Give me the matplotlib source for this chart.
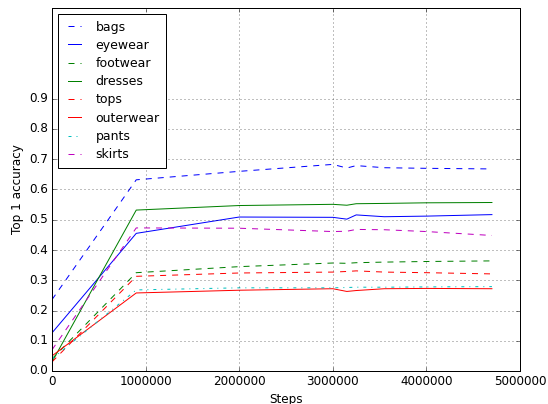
import numpy as np
import matplotlib
matplotlib.use('Agg')
import matplotlib.pyplot as plt

plt.style.use('classic')

# training steps at which each category was evaluated
steps = [0, 900000, 2000000, 3000000, 3150000, 3250000, 3550000, 4000000, 4700000]

bags = [0.236, 0.632, 0.660, 0.683, 0.671, 0.679, 0.672, 0.670, 0.668]
eyewear = [0.126, 0.455, 0.509, 0.508, 0.502, 0.516, 0.510, 0.512, 0.517]
footwear = [0.040, 0.325, 0.345, 0.357, 0.356, 0.358, 0.360, 0.362, 0.364]
dresses = [0.030, 0.532, 0.547, 0.551, 0.548, 0.553, 0.554, 0.556, 0.557]
tops = [0.030, 0.313, 0.324, 0.327, 0.329, 0.331, 0.327, 0.325, 0.321]
outerwear = [0.050, 0.258, 0.267, 0.272, 0.263, 0.266, 0.272, 0.273, 0.272]
pants = [0.040, 0.268, 0.275, 0.275, 0.276, 0.277, 0.277, 0.278, 0.279]
skirts = [0.070, 0.473, 0.472, 0.461, 0.462, 0.468, 0.467, 0.461, 0.448]

series = [
    ('bags', bags, 'b--'),
    ('eyewear', eyewear, 'b-'),
    ('footwear', footwear, 'g--'),
    ('dresses', dresses, 'g-'),
    ('tops', tops, 'r--'),
    ('outerwear', outerwear, 'r-'),
    ('pants', pants, 'c-.'),
    ('skirts', skirts, 'm--'),
]

fig = plt.figure(figsize=(548 / 72, 404 / 72), dpi=72)
ax = fig.add_axes([52 / 548, 1 - 371 / 404, 468 / 548, 363 / 404])

for name, vals, fmt in series:
    ax.plot(steps, vals, fmt, label=name)

ax.set_xlim(0, 5000000)
ax.set_ylim(0, 1.2)
ax.set_yticks(np.arange(0, 1.0, 0.1))
ax.set_xticks([0, 1000000, 2000000, 3000000, 4000000, 5000000])
ax.set_xticklabels(['0', '1000000', '2000000', '3000000', '4000000', '5000000'])
ax.set_xlabel('Steps')
ax.set_ylabel('Top 1 accuracy')
ax.grid(True)
ax.legend(loc='upper left', fontsize=12.5, handlelength=1.6, handletextpad=0.9,
          labelspacing=0.42, borderpad=0.5, borderaxespad=0.5)

fig.savefig('out.png', dpi=72)
